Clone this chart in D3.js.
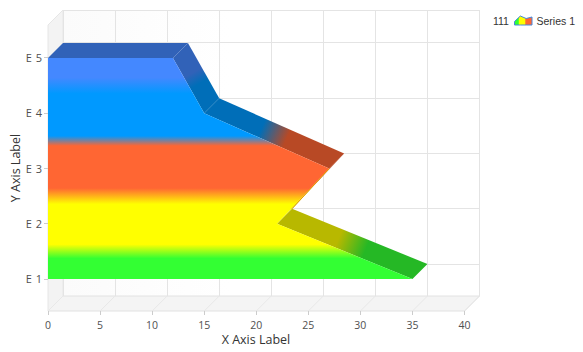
<!DOCTYPE html>
<html>
<head>
<meta charset="utf-8">
<script src="https://cdn.jsdelivr.net/npm/d3@7"></script>
<style>
  html, body { margin: 0; padding: 0; background: #fff; }
  text { font-family: "Open Sans", sans-serif; fill: #505050; }
  .legend text { font-family: "Liberation Sans", sans-serif; fill: #333; }
</style>
</head>
<body>
<svg id="chart" width="583" height="352"></svg>
<script>
const categories = ["E 1", "E 2", "E 3", "E 4", "E 5"];
const seriesValues = [35, 22, 27, 15, 12];
const pointColors = ["#33ff33", "#ffff00", "#ff6633", "#0099ff", "#4488ff"];
const xTicks = [0, 5, 10, 15, 20, 25, 30, 35, 40];
const seriesName = "Series 1";
const legendTitle = "111";
const legendValues = [3.5, 9, 6.5, 8];

const depth = 15;
const plot = { left: 48, right: 464.5, top: 25, bottom: 311 };

const svg = d3.select("#chart");
const defs = svg.append("defs");

const x = d3.scaleLinear().domain([0, 40]).range([plot.left, plot.right]);
const y = d3.scalePoint().domain(categories).range([plot.bottom + 0.5, plot.top + 0.5]).padding(0.588);

// walls
const wallGrad = defs.append("linearGradient").attr("id", "wall");
wallGrad.append("stop").attr("offset", 0).attr("stop-color", "#fbfbfb");
wallGrad.append("stop").attr("offset", 0.4).attr("stop-color", "#ffffff");

svg.append("rect")
  .attr("x", plot.left + depth).attr("y", plot.top - depth)
  .attr("width", plot.right - plot.left).attr("height", plot.bottom - plot.top)
  .attr("fill", "url(#wall)");

const poly = pts => pts.map(p => p.join(",")).join(" ");

svg.append("polygon")
  .attr("points", poly([[plot.left, plot.top], [plot.left + depth, plot.top - depth],
    [plot.left + depth, plot.bottom - depth], [plot.left, plot.bottom]]))
  .attr("fill", "#f3f3f3").attr("stroke", "#e6e6e6");

svg.append("polygon")
  .attr("points", poly([[plot.left, plot.bottom], [plot.left + depth, plot.bottom - depth],
    [plot.right + depth, plot.bottom - depth], [plot.right, plot.bottom]]))
  .attr("fill", "#f4f4f4").attr("stroke", "#e2e2e2");

// grid, on the back wall and floor
const grid = svg.append("g").attr("stroke", "#e4e4e4").attr("fill", "none").attr("shape-rendering", "crispEdges");

xTicks.forEach(t => {
  grid.append("line").attr("x1", x(t) + depth).attr("x2", x(t) + depth)
    .attr("y1", plot.top - depth).attr("y2", plot.bottom - depth);
});
categories.forEach(c => {
  grid.append("line").attr("x1", plot.left + depth).attr("x2", plot.right + depth)
    .attr("y1", y(c) - depth).attr("y2", y(c) - depth);
  svg.append("line").attr("x1", plot.left).attr("x2", plot.left + depth)
    .attr("y1", y(c)).attr("y2", y(c) - depth).attr("stroke", "#ececec");
});
grid.append("line").attr("x1", plot.left + depth).attr("x2", plot.right + depth)
  .attr("y1", plot.top - depth).attr("y2", plot.top - depth);

xTicks.forEach(t => {
  svg.append("line").attr("x1", x(t)).attr("x2", x(t) + depth)
    .attr("y1", plot.bottom).attr("y2", plot.bottom - depth).attr("stroke", "#e8e8e8");
});

// vertical gradient of the front face: one colour per point, blended halfway between points
const yTop = y(categories[4]), ySpan = y(categories[0]) - yTop;
const frontGrad = defs.append("linearGradient").attr("id", "front")
  .attr("gradientUnits", "userSpaceOnUse")
  .attr("x1", 0).attr("x2", 0)
  .attr("y1", yTop).attr("y2", yTop + ySpan);

const blend = [8, 5, 8, 7]; // half width of each colour blend, top to bottom
d3.range(4, 0, -1).forEach((i, k) => {
  const mid = (y(categories[i]) + y(categories[i - 1])) / 2;
  frontGrad.append("stop").attr("offset", (mid - blend[k] - yTop) / ySpan).attr("stop-color", pointColors[i]);
  frontGrad.append("stop").attr("offset", (mid + blend[k] - yTop) / ySpan).attr("stop-color", pointColors[i - 1]);
});

const pts = categories.map((c, i) => [x(seriesValues[i]), y(c)]);

const area = d3.area()
  .x0(x(0))
  .x1(d => d[0])
  .y(d => d[1]);

// top faces, one for each segment, coloured along their length
const dark = c => {
  const r = d3.rgb(c);
  return d3.rgb(r.r * 0.72, r.g * 0.72, r.b * 0.72).formatHex();
};
const faces = svg.append("g");

function face(a, b, ca, cb, id) {
  const g = defs.append("linearGradient").attr("id", id)
    .attr("gradientUnits", "userSpaceOnUse")
    .attr("x1", a[0] + depth / 2).attr("y1", a[1] - depth / 2)
    .attr("x2", b[0] + depth / 2).attr("y2", b[1] - depth / 2);
  g.append("stop").attr("offset", 0.4).attr("stop-color", dark(ca));
  g.append("stop").attr("offset", 0.6).attr("stop-color", dark(cb));
  faces.append("polygon")
    .attr("points", poly([a, [a[0] + depth, a[1] - depth], [b[0] + depth, b[1] - depth], b]))
    .attr("fill", `url(#${id})`);
}

pts.slice(1).forEach((p, i) => {
  face(pts[i], p, pointColors[i], pointColors[i + 1], "face" + i);
});
face(pts[4], [x(0), pts[4][1]], pointColors[4], pointColors[4], "face4");

svg.append("path")
  .attr("d", area(pts))
  .attr("fill", "url(#front)");

// the narrow side facing us between E 3 and E 2
svg.append("line")
  .attr("x1", pts[2][0]).attr("y1", pts[2][1])
  .attr("x2", pts[1][0] + depth).attr("y2", pts[1][1] - depth)
  .attr("stroke", "#e8a000").attr("stroke-width", 1);

// axes
const axisX = svg.append("g");
xTicks.forEach(t => {
  axisX.append("line").attr("x1", x(t)).attr("x2", x(t))
    .attr("y1", plot.bottom).attr("y2", plot.bottom + 4)
    .attr("stroke", "#ccc").attr("shape-rendering", "crispEdges");
  axisX.append("text").attr("x", x(t)).attr("y", 328.5)
    .attr("text-anchor", "middle").attr("font-size", 10.5).text(t);
});

const axisY = svg.append("g");
categories.forEach(c => {
  axisY.append("line").attr("x1", plot.left - 4).attr("x2", plot.left)
    .attr("y1", y(c)).attr("y2", y(c))
    .attr("stroke", "#ccc").attr("shape-rendering", "crispEdges");
  axisY.append("text").attr("x", 42).attr("y", y(c) + 4)
    .attr("text-anchor", "end").attr("font-size", 11).attr("word-spacing", 1).text(c);
});

svg.append("text").attr("x", 256).attr("y", 344)
  .attr("text-anchor", "middle").attr("font-size", 12.5).style("fill", "#333").text("X Axis Label");
svg.append("text")
  .attr("transform", "translate(20,168) rotate(-90)")
  .attr("text-anchor", "middle").attr("font-size", 12.5).style("fill", "#333").text("Y Axis Label");

// legend
const legend = svg.append("g").attr("class", "legend");
legend.append("text").attr("x", 493).attr("y", 25).attr("font-size", 10.5).text(legendTitle);
legend.append("text").attr("x", 536.5).attr("y", 25).attr("font-size", 10.5).text(seriesName);

const legendX = d3.scaleLinear().domain([0, 3]).range([514.5, 532]);
const legendY = d3.scaleLinear().domain([0, 10]).range([25, 15]);
const legendGrad = defs.append("linearGradient").attr("id", "legendFill");
[[0.22, 0], [0.26, 1], [0.6, 1], [0.64, 2]].forEach(s => {
  legendGrad.append("stop").attr("offset", s[0]).attr("stop-color", pointColors[s[1]]);
});
legend.append("path")
  .attr("d", d3.area().x((d, i) => legendX(i)).y0(legendY(0)).y1(d => legendY(d))(legendValues) + "Z")
  .attr("fill", "url(#legendFill)").attr("stroke", "#4488dd").attr("stroke-width", 1);
</script>
</body>
</html>
